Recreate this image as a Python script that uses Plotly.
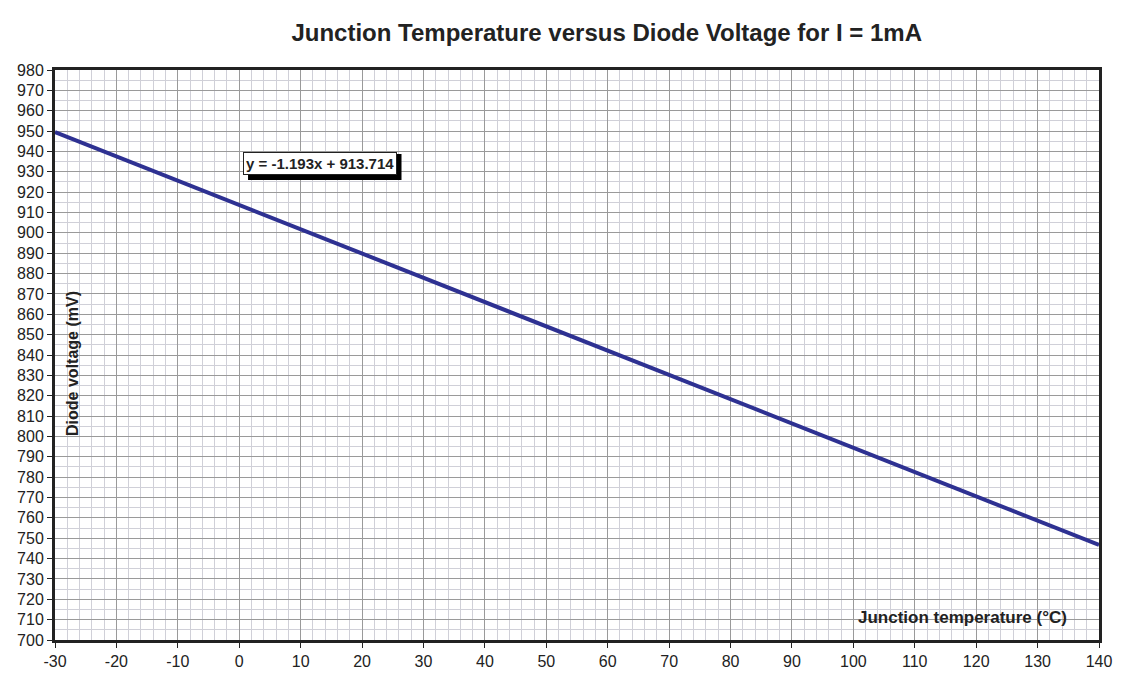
import plotly.graph_objects as go

temps = [-30, 30, 140]
voltages = [949.5, 877.9, 746.7]
x_ticks = list(range(-30, 141, 10))
x_tick_labels = [str(v) for v in x_ticks]
y_ticks = list(range(700, 981, 10))
y_tick_labels = [str(v) for v in y_ticks]
title = "Junction&nbsp;Temperature versus Diode Voltage for I = 1mA"
equation = "y = -1.193x + 913.714"

fig = go.Figure()
fig.add_trace(go.Scatter(x=temps, y=voltages, mode="lines",
                         line=dict(color="#2e3192", width=4), showlegend=False))

font_main = "Liberation Sans, Arial, sans-serif"
# page body has an 8px margin, so the figure is sized/offset to compensate
fig.update_layout(
    width=1115, height=667,
    margin=dict(l=47, r=24, t=62, b=35),
    paper_bgcolor="white", plot_bgcolor="white",
    font=dict(family=font_main, color="#222", size=16),
    title=dict(text="<b>" + title + "</b>", x=0.537, xref="container", xanchor="center",
               y=0.9625, yref="container", yanchor="middle",
               font=dict(size=24, color="#222")),
    xaxis=dict(range=[-30, 140], tickvals=x_ticks, ticktext=x_tick_labels, ticks="outside",
               ticklen=5, tickwidth=1, tickcolor="#222", showline=True, linecolor="#222",
               linewidth=3, mirror=True, automargin=False,
               showgrid=True, gridcolor="#9a9a9a", gridwidth=1, zeroline=False,
               minor=dict(dtick=2, showgrid=True, gridcolor="#d0d0d8", gridwidth=1),
               tickfont=dict(size=16)),
    yaxis=dict(range=[700, 980], tickvals=y_ticks, ticktext=y_tick_labels, ticks="outside",
               ticklen=5, tickwidth=1, tickcolor="#222", showline=True, linecolor="#222",
               linewidth=3, mirror=True, automargin=False,
               showgrid=True, gridcolor="#9a9a9a", gridwidth=1, zeroline=False,
               minor=dict(dtick=5, showgrid=True, gridcolor="#d0d0d8", gridwidth=1),
               tickfont=dict(size=16)),
)

# y-axis title inside plot
fig.add_annotation(text="<b>Diode voltage (mV)</b>", x=0.0172, xref="paper", y=0.486, yref="paper",
                   xanchor="center", yanchor="middle",
                   textangle=-90, showarrow=False, font=dict(size=16, color="#222"))
# x-axis title inside plot
fig.add_annotation(text="<b>Junction temperature (°C)</b>", x=0.869, xref="paper", y=0.040, yref="paper",
                   xanchor="center", yanchor="middle",
                   showarrow=False, font=dict(size=17, color="#222"))
# equation box drop shadow
fig.add_shape(type="rect", xref="paper", yref="paper", x0=0.1849, x1=0.3319, y0=0.807, y1=0.8526,
              fillcolor="black", line=dict(width=0), layer="above")
# equation box
fig.add_annotation(text="<b>" + equation + "</b>", x=13.07, y=934.3, showarrow=False,
                   xanchor="center", yanchor="middle",
                   font=dict(size=15, color="#222"), bgcolor="white", bordercolor="#222",
                   borderwidth=1, borderpad=2)

fig.write_html("out.html")
